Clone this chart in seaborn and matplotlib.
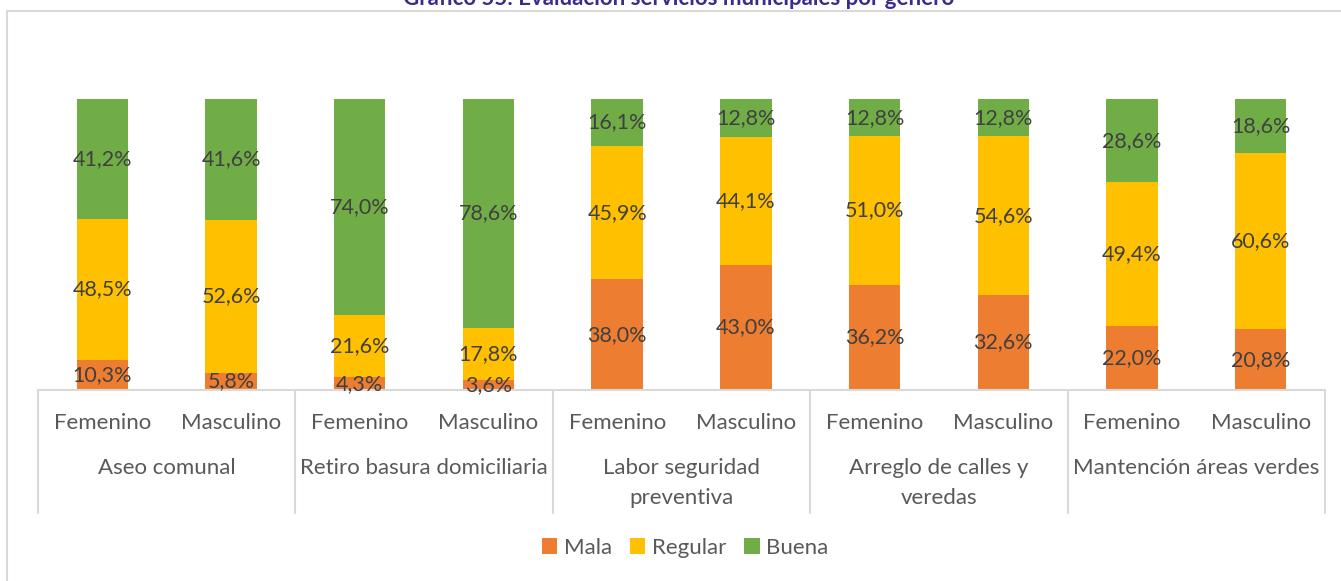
import matplotlib
matplotlib.use("Agg")
import matplotlib.pyplot as plt
from matplotlib.patches import Patch, Rectangle
import seaborn as sns
import pandas as pd
import numpy as np

# Services evaluated and respondent gender
services = ["Aseo comunal", "Retiro basura domiciliaria", "Labor seguridad\npreventiva",
            "Arreglo de calles y\nveredas", "Mantención áreas verdes"]
genders = ["Femenino", "Masculino"]

# Percentages per bar (Femenino, Masculino for each service in order)
mala = [10.3, 5.8, 4.3, 3.6, 38.0, 43.0, 36.2, 32.6, 22.0, 20.8]
regular = [48.5, 52.6, 21.6, 17.8, 45.9, 44.1, 51.0, 54.6, 49.4, 60.6]
buena = [41.2, 41.6, 74.0, 78.6, 16.1, 12.8, 12.8, 12.8, 28.6, 18.6]

levels = ["Mala", "Regular", "Buena"]
colors = {"Mala": "#ED7D31", "Regular": "#FFC000", "Buena": "#70AD47"}

title = "Gráfico 55: Evaluación servicios municipales por género"

sns.set_theme(style="white")
plt.rcParams["font.family"] = ["Lato", "DejaVu Sans"]
FS_LAB = 15.5
FS_AX = 16

bar_keys = [f"{s}|{g}" for s in services for g in genders]
df = pd.DataFrame({"bar": bar_keys, "Mala": mala, "Regular": regular, "Buena": buena})

fig = plt.figure(figsize=(13.41, 5.81), dpi=100)
W, H = 1341, 581
ax = fig.add_axes([38 / W, 1 - 390 / H, (1325 - 38) / W, 291 / H])

bottom = np.zeros(len(df))
for lev in levels:
    sns.barplot(data=df, x="bar", y=lev, order=bar_keys, color=colors[lev],
                bottom=bottom, width=0.40, ax=ax, saturation=1, edgecolor="none")
    for i, v in enumerate(df[lev]):
        ax.text(i, bottom[i] + v / 2, f"{v:.1f}%".replace(".", ","),
                ha="center", va="center", fontsize=FS_LAB, color="#404040")
    bottom = bottom + df[lev].values

ax.set_xlim(-0.5, len(bar_keys) - 0.5)
ax.set_ylim(0, 100)
ax.set_ylabel("")
ax.set_xlabel("")
ax.set_yticks([])
ax.set_xticks([])
for sp in ["top", "right", "left"]:
    ax.spines[sp].set_visible(False)
ax.spines["bottom"].set_color("#D9D9D9")
ax.spines["bottom"].set_linewidth(1.5)

trans = ax.get_xaxis_transform()
px = 1 / 291
# gender labels
for i, key in enumerate(bar_keys):
    ax.text(i, -33 * px, key.split("|")[1], transform=trans, ha="center", va="center",
            fontsize=FS_AX, color="#595959")
# service labels (one text per line) and group separators
for j, s in enumerate(services):
    for k, line in enumerate(s.split("\n")):
        ax.text(2 * j + 0.5, (-78 - 30 * k) * px, line, transform=trans, ha="center",
                va="center", fontsize=FS_AX, color="#595959")
for b in np.arange(-0.5, len(bar_keys), 2):
    ax.plot([b, b], [0, -123 * px], transform=trans, color="#D9D9D9", lw=1.5,
            clip_on=False)

# outer chart frame
fig.patches.append(Rectangle((7 / W, -0.1), 1.2, 1 - 11 / H + 0.1, transform=fig.transFigure,
                             fill=False, edgecolor="#D9D9D9", lw=1.5))

fig.text(679 / W, 1 - 5 / H, title, ha="center", va="baseline", fontsize=16,
         fontweight="bold", color="#3F2A8C")

handles = [Patch(facecolor=colors[l], edgecolor="none", label=l) for l in levels]
fig.legend(handles=handles, loc="center", bbox_to_anchor=(685 / W, 1 - 548 / H), ncol=3,
           frameon=False, fontsize=FS_AX, handlelength=0.7, handleheight=0.7,
           handletextpad=0.3, columnspacing=0.8, labelcolor="#595959")

fig.savefig("out.png", dpi=100)
